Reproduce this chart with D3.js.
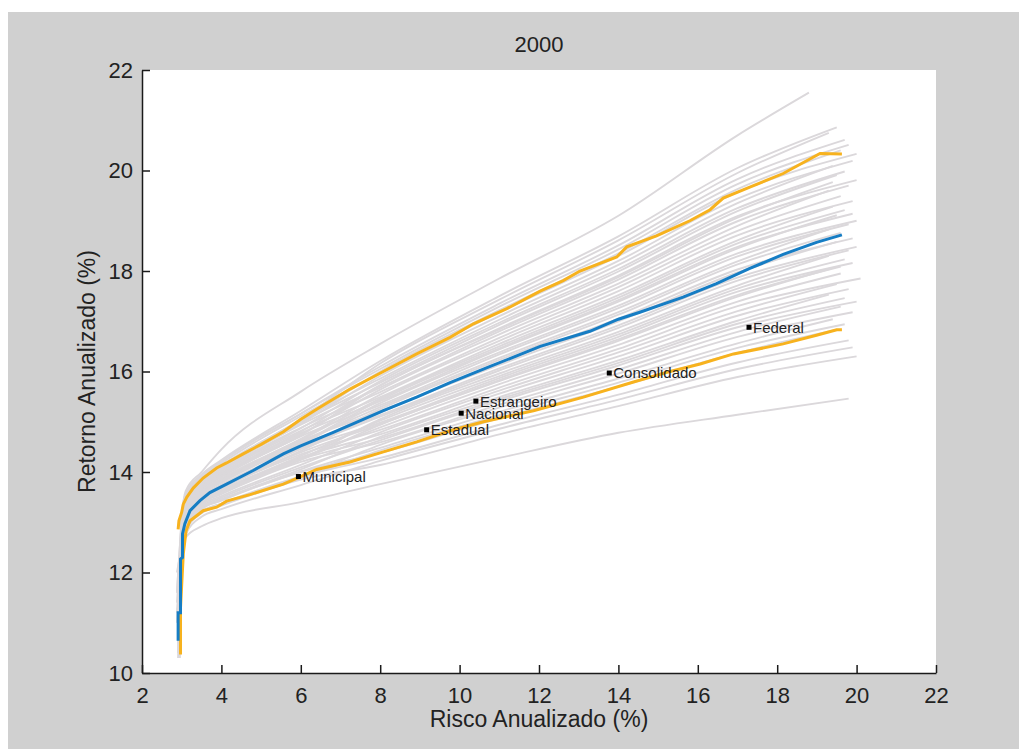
<!DOCTYPE html>
<html>
<head>
<meta charset="utf-8">
<script src="https://cdn.jsdelivr.net/npm/d3@7"></script>
<style>
  body { margin: 0; background: #fff; }
  .axis path, .axis line { stroke: #1a1a1a; stroke-width: 1.5; }
  .axis text { font-family: "Liberation Sans", Arial, sans-serif; font-size: 22px; fill: #222; }
  .lbl { font-family: "Liberation Sans", Arial, sans-serif; fill: #222; }
</style>
</head>
<body>
<script>
// title / axis names
var title = "2000";
var xName = "Risco Anualizado (%)";
var yName = "Retorno Anualizado (%)";
var xTicks = [2, 4, 6, 8, 10, 12, 14, 16, 18, 20, 22];
var yTicks = [10, 12, 14, 16, 18, 20, 22];

// resampled frontiers (gray): start point, returns on the risk grid, end point
var riskGrid = [3.0, 3.1, 3.5, 4, 6, 8, 11, 14, 17];
var grayStart = [
  [2.93, 10.6], [2.90, 11.2], [2.95, 10.3], [2.88, 11.6], [2.92, 10.9], [2.96, 11.0], [2.91, 10.4], [2.94, 11.4], [2.93, 10.8], [2.90, 12.0],
  [2.95, 10.6], [2.88, 11.2], [2.92, 10.3], [2.96, 11.6], [2.91, 10.9], [2.94, 11.0], [2.93, 10.4], [2.90, 11.4], [2.95, 10.8], [2.88, 12.0],
  [2.92, 10.6], [2.96, 11.2], [2.91, 10.3], [2.94, 11.6], [2.93, 10.9], [2.90, 11.0], [2.95, 10.4], [2.88, 11.4], [2.92, 10.8], [2.96, 12.0],
  [2.91, 10.6], [2.94, 11.2], [2.93, 10.3], [2.90, 11.6], [2.95, 10.9], [2.88, 11.0], [2.92, 10.4], [2.96, 11.4], [2.91, 10.8], [2.94, 12.0],
  [2.93, 10.6], [2.90, 11.2], [2.95, 10.3], [2.88, 11.6], [2.92, 10.9], [2.96, 11.0], [2.91, 10.4], [2.94, 11.4], [2.93, 10.8], [2.90, 12.0]
];
var grayReturns = [
  [12.25, 12.70, 12.92, 13.08, 13.40, 13.76, 14.28, 14.78, 15.14],
  [13.02, 13.62, 14.00, 14.45, 15.60, 16.55, 17.85, 19.10, 20.70],
  [13.21, 13.56, 13.95, 14.24, 15.22, 16.21, 17.50, 18.69, 20.05],
  [12.97, 13.47, 13.85, 14.13, 15.05, 16.16, 17.43, 18.61, 19.95],
  [12.83, 13.53, 13.91, 14.21, 15.16, 16.10, 17.35, 18.51, 19.83],
  [12.45, 12.85, 13.21, 13.37, 13.91, 14.28, 14.94, 15.54, 16.18],
  [12.21, 12.76, 13.11, 13.26, 13.74, 14.22, 14.86, 15.44, 16.05],
  [12.52, 12.82, 13.18, 13.33, 13.85, 14.14, 14.75, 15.31, 15.89],
  [12.45, 12.90, 13.26, 13.43, 14.00, 14.38, 15.07, 15.70, 16.37],
  [12.23, 12.83, 13.19, 13.35, 13.88, 14.43, 15.13, 15.78, 16.47],
  [12.56, 12.91, 13.27, 13.44, 14.01, 14.48, 15.20, 15.86, 16.56],
  [12.35, 12.85, 13.21, 13.37, 13.91, 14.54, 15.28, 15.96, 16.69],
  [12.31, 13.01, 13.37, 13.56, 14.20, 14.59, 15.34, 16.04, 16.79],
  [12.55, 12.95, 13.31, 13.49, 14.09, 14.63, 15.41, 16.12, 16.88],
  [12.37, 12.92, 13.29, 13.46, 14.05, 14.70, 15.49, 16.22, 17.01],
  [12.75, 13.05, 13.42, 13.62, 14.29, 14.75, 15.56, 16.30, 17.11],
  [12.52, 12.97, 13.34, 13.52, 14.14, 14.79, 15.62, 16.38, 17.20],
  [12.49, 13.09, 13.46, 13.67, 14.35, 14.84, 15.68, 16.45, 17.30],
  [12.70, 13.05, 13.41, 13.61, 14.27, 14.89, 15.75, 16.53, 17.39],
  [12.53, 13.03, 13.40, 13.59, 14.24, 14.94, 15.81, 16.61, 17.49],
  [12.45, 13.15, 13.52, 13.73, 14.46, 14.98, 15.87, 16.69, 17.59],
  [12.67, 13.07, 13.44, 13.64, 14.32, 15.02, 15.91, 16.74, 17.65],
  [12.49, 13.04, 13.40, 13.60, 14.25, 15.05, 15.96, 16.79, 17.71],
  [12.86, 13.16, 13.53, 13.75, 14.48, 15.10, 16.02, 16.87, 17.81],
  [12.74, 13.19, 13.56, 13.79, 14.54, 15.13, 16.06, 16.92, 17.87],
  [12.53, 13.13, 13.50, 13.71, 14.42, 15.18, 16.13, 17.00, 17.97],
  [12.88, 13.23, 13.61, 13.84, 14.62, 15.21, 16.17, 17.05, 18.03],
  [12.65, 13.15, 13.52, 13.74, 14.47, 15.25, 16.23, 17.13, 18.13],
  [12.52, 13.22, 13.59, 13.83, 14.59, 15.29, 16.27, 17.18, 18.19],
  [12.88, 13.28, 13.66, 13.90, 14.71, 15.33, 16.34, 17.26, 18.29],
  [12.65, 13.20, 13.57, 13.80, 14.55, 15.37, 16.38, 17.31, 18.35],
  [13.02, 13.32, 13.69, 13.94, 14.77, 15.41, 16.44, 17.39, 18.45],
  [12.80, 13.25, 13.62, 13.86, 14.64, 15.46, 16.50, 17.47, 18.55],
  [12.75, 13.35, 13.72, 13.98, 14.82, 15.49, 16.55, 17.52, 18.61],
  [12.91, 13.26, 13.63, 13.87, 14.66, 15.54, 16.61, 17.60, 18.71],
  [12.88, 13.38, 13.75, 14.02, 14.88, 15.59, 16.67, 17.68, 18.80],
  [12.61, 13.31, 13.68, 13.93, 14.75, 15.64, 16.74, 17.75, 18.90],
  [13.01, 13.41, 13.79, 14.05, 14.94, 15.68, 16.80, 17.83, 18.99],
  [12.78, 13.33, 13.71, 13.96, 14.80, 15.73, 16.86, 17.91, 19.09],
  [13.14, 13.44, 13.82, 14.09, 14.99, 15.78, 16.93, 17.99, 19.19],
  [12.92, 13.37, 13.75, 14.01, 14.87, 15.81, 16.97, 18.04, 19.25],
  [12.86, 13.46, 13.84, 14.11, 15.03, 15.86, 17.03, 18.12, 19.35],
  [13.07, 13.42, 13.80, 14.07, 14.96, 15.91, 17.10, 18.20, 19.44],
  [13.00, 13.50, 13.88, 14.17, 15.11, 15.97, 17.18, 18.30, 19.57],
  [12.75, 13.45, 13.82, 14.10, 15.00, 16.00, 17.22, 18.35, 19.63],
  [13.13, 13.53, 13.91, 14.21, 15.16, 16.05, 17.29, 18.43, 19.73],
  [12.56, 13.11, 13.48, 13.69, 14.39, 14.95, 15.83, 16.64, 17.52],
  [12.91, 13.21, 13.58, 13.81, 14.57, 15.43, 16.46, 17.42, 18.48],
  [12.85, 13.30, 13.67, 13.92, 14.73, 15.72, 16.84, 17.88, 19.06],
  [12.44, 13.04, 13.40, 13.60, 14.25, 14.67, 15.45, 16.17, 16.95]
];
var grayEnd = [
  [19.8, 15.46], [18.8, 21.55], [19.5, 20.86], [19.3, 20.75], [19.7, 20.61], [19.8, 16.62], [19.9, 16.48], [20.0, 16.30], [19.5, 16.83], [19.7, 16.94],
  [19.4, 17.04], [19.9, 17.18], [19.6, 17.29], [20.0, 17.39], [19.3, 17.53], [19.8, 17.64], [19.5, 17.74], [20.1, 17.85], [19.6, 17.95], [19.4, 18.06],
  [19.9, 18.16], [19.7, 18.23], [19.3, 18.30], [19.8, 18.41], [20.0, 18.48], [19.5, 18.58], [19.9, 18.65], [19.6, 18.76], [19.3, 18.83], [19.8, 18.93],
  [20.0, 19.00], [19.5, 19.11], [19.7, 19.21], [19.4, 19.28], [19.9, 19.39], [19.6, 19.49], [19.3, 19.60], [19.8, 19.70], [20.0, 19.81], [19.5, 19.91],
  [19.7, 19.98], [19.4, 20.09], [19.9, 20.19], [20.0, 20.33], [19.6, 20.40], [19.8, 20.51], [19.6, 18.09], [19.9, 19.14], [19.4, 19.77], [19.7, 17.46]
];

// 95% band (upper yellow)
var upperRisk = [2.91, 2.93, 3.0, 3.04, 3.13, 3.29, 3.54, 3.88, 4.13, 4.55, 5.0, 5.56, 6.0, 6.4, 7.24, 8.08, 8.92, 9.76, 10.35, 11.19, 12.03, 12.61, 13.03, 13.96, 14.21, 14.96, 15.8, 16.31, 16.64, 17.31, 18.15, 19.08, 19.63];
var upperReturn = [12.86, 13.03, 13.2, 13.36, 13.5, 13.68, 13.88, 14.08, 14.18, 14.36, 14.55, 14.8, 15.05, 15.25, 15.65, 16.0, 16.35, 16.68, 16.95, 17.25, 17.6, 17.81, 18.0, 18.28, 18.48, 18.7, 19.0, 19.22, 19.45, 19.67, 19.94, 20.34, 20.33];
// median (blue)
var medianRisk = [2.91, 2.91, 2.97, 2.97, 3.02, 3.02, 3.08, 3.21, 3.46, 3.71, 4.13, 4.8, 5.56, 6.0, 6.82, 8.08, 8.92, 9.76, 10.77, 12.03, 13.28, 14.0, 14.54, 15.63, 16.47, 17.31, 18.15, 18.99, 19.63];
var medianReturn = [10.64, 11.2, 11.2, 12.27, 12.3, 12.77, 12.97, 13.23, 13.43, 13.59, 13.76, 14.03, 14.36, 14.52, 14.79, 15.22, 15.49, 15.78, 16.1, 16.5, 16.8, 17.04, 17.18, 17.48, 17.75, 18.05, 18.33, 18.57, 18.72];
// 5% band (lower yellow)
var lowerRisk = [2.97, 2.97, 3.04, 3.11, 3.21, 3.54, 3.88, 4.13, 4.72, 5.56, 5.94, 6.4, 7.24, 8.08, 8.92, 9.76, 10.6, 11.86, 13.12, 14.38, 15.2, 16.06, 16.9, 17.73, 18.15, 18.99, 19.5, 19.63];
var lowerReturn = [10.37, 11.3, 12.37, 12.83, 13.03, 13.23, 13.3, 13.42, 13.55, 13.76, 13.89, 14.05, 14.2, 14.4, 14.6, 14.82, 15.0, 15.22, 15.49, 15.79, 15.98, 16.15, 16.35, 16.48, 16.55, 16.72, 16.83, 16.83];

// actual portfolios
var portNames = ["Municipal", "Estadual", "Nacional", "Estrangeiro", "Consolidado", "Federal"];
var portRisk = [5.94, 9.17, 10.04, 10.41, 13.77, 17.29];
var portReturn = [13.91, 14.84, 15.17, 15.41, 15.97, 16.88];

var W = 1019, H = 749;
var svg = d3.select("body").append("svg")
    .attr("width", W)
    .attr("height", H);

// figure background
svg.append("rect")
    .attr("x", 8).attr("y", 12)
    .attr("width", W - 8).attr("height", H - 12)
    .attr("fill", "#d0d0d0");

var xScale = d3.scaleLinear().domain([2, 22]).range([142, 936]);
var yScale = d3.scaleLinear().domain([10, 22]).range([673, 70]);

// axes area
svg.append("rect")
    .attr("x", xScale(2)).attr("y", yScale(22))
    .attr("width", xScale(22) - xScale(2))
    .attr("height", yScale(10) - yScale(22))
    .attr("fill", "#fff");

var line = d3.line()
    .x(function (d) { return xScale(d[0]); })
    .y(function (d) { return yScale(d[1]); });

var smooth = d3.line()
    .x(function (d) { return xScale(d[0]); })
    .y(function (d) { return yScale(d[1]); })
    .curve(d3.curveMonotoneX);

// gray frontiers
var frontiers = grayReturns.map(function (row, i) {
    var pts = [grayStart[i]];
    row.forEach(function (v, j) { pts.push([riskGrid[j], v]); });
    pts.push(grayEnd[i]);
    return pts;
});

svg.append("g")
    .selectAll("path")
    .data(frontiers)
    .enter().append("path")
    .attr("d", smooth)
    .attr("fill", "none")
    .attr("stroke", "#dbd8db")
    .attr("stroke-width", 1.9);

function zip(a, b) {
    return a.map(function (v, i) { return [v, b[i]]; });
}

svg.append("path")
    .datum(zip(upperRisk, upperReturn))
    .attr("d", line)
    .attr("fill", "none")
    .attr("stroke", "#f7b21e")
    .attr("stroke-width", 3);

svg.append("path")
    .datum(zip(lowerRisk, lowerReturn))
    .attr("d", line)
    .attr("fill", "none")
    .attr("stroke", "#f7b21e")
    .attr("stroke-width", 3);

svg.append("path")
    .datum(zip(medianRisk, medianReturn))
    .attr("d", line)
    .attr("fill", "none")
    .attr("stroke", "#167dc4")
    .attr("stroke-width", 3);

// portfolio markers + names
var ports = portNames.map(function (n, i) { return { name: n, x: portRisk[i], y: portReturn[i] }; });
svg.selectAll(".port")
    .data(ports)
    .enter().append("rect")
    .attr("class", "port")
    .attr("x", function (d) { return xScale(d.x) - 2.5; })
    .attr("y", function (d) { return yScale(d.y) - 2.5; })
    .attr("width", 5)
    .attr("height", 5)
    .attr("fill", "#000");

svg.selectAll(".pname")
    .data(ports)
    .enter().append("text")
    .attr("class", "lbl pname")
    .attr("x", function (d) { return xScale(d.x) + 4; })
    .attr("y", function (d) { return yScale(d.y); })
    .attr("dy", "0.36em")
    .style("font-size", "15px")
    .text(function (d) { return d.name; });

// axes
svg.append("g")
    .attr("class", "axis")
    .attr("transform", "translate(0," + yScale(10) + ")")
    .call(d3.axisBottom(xScale).tickValues(xTicks).tickSizeInner(-8).tickSizeOuter(0).tickPadding(14));

svg.append("g")
    .attr("class", "axis")
    .attr("transform", "translate(" + xScale(2) + ",0)")
    .call(d3.axisLeft(yScale).tickValues(yTicks).tickSizeInner(-8).tickSizeOuter(0).tickPadding(9));

// titles
svg.append("text")
    .attr("class", "lbl")
    .attr("x", (xScale(2) + xScale(22)) / 2)
    .attr("y", 52)
    .attr("text-anchor", "middle")
    .style("font-size", "22px")
    .text(title);

svg.append("text")
    .attr("class", "lbl")
    .attr("x", (xScale(2) + xScale(22)) / 2)
    .attr("y", 727)
    .attr("text-anchor", "middle")
    .style("font-size", "23px")
    .text(xName);

svg.append("text")
    .attr("class", "lbl")
    .attr("transform", "translate(95," + (yScale(10) + yScale(22)) / 2 + ") rotate(-90)")
    .attr("text-anchor", "middle")
    .style("font-size", "23px")
    .text(yName);
</script>
</body>
</html>
